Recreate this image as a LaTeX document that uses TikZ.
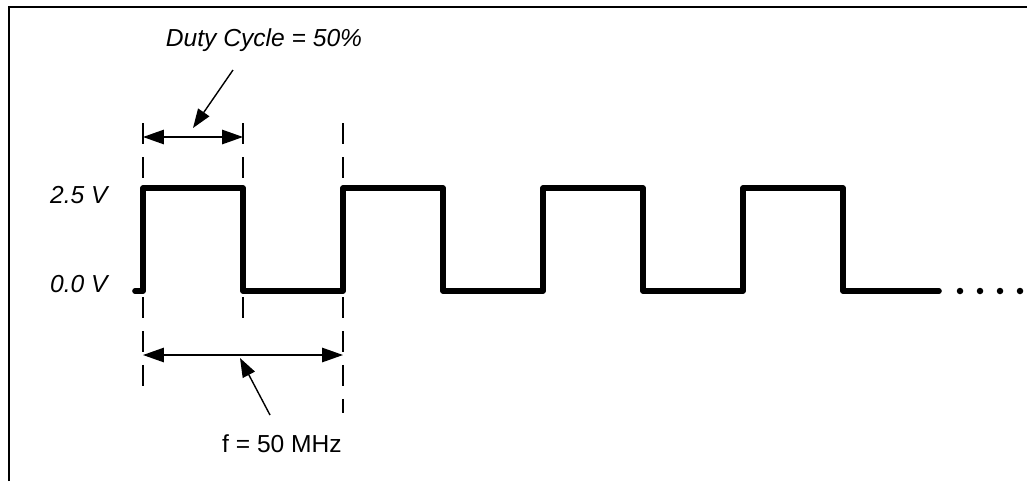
\documentclass[tikz,border=0pt]{standalone}
\usepackage{fontspec}
\setmainfont{Liberation Sans}
\usetikzlibrary{arrows.meta}
\begin{document}
\begin{tikzpicture}[x=0.02cm, y=-0.02cm, font=\fontsize{14}{16}\selectfont]
    \tikzset{
      wave/.style={line width=3.2pt, line cap=round, line join=round},
      guide/.style={line width=1pt, dash pattern=on 0.42cm off 0.26cm},
      dim/.style={line width=0.8pt,
                  {Triangle[length=0.42cm,width=0.29cm]}-{Triangle[length=0.42cm,width=0.29cm]}},
      ptr/.style={line width=0.8pt, -{Triangle[length=0.38cm,width=0.27cm]}},
      lbl/.style={inner sep=0pt},
    }
    \useasboundingbox (0,0) rectangle (1027,481);
    \draw[line width=0.8pt] (9,481) -- (9,7) -- (1027,7);

    % signal
    \draw[wave] (135,291) \foreach \x in {143,343,543,743} {
        -- (\x,291) -- (\x,188) -- (\x+100,188) -- (\x+100,291) } -- (939,291);
    \foreach \x in {960,980,1000,1020}
      \fill (\x,291) circle[radius=0.065cm];

    % guides
    \foreach \x in {143,243,343}
      \draw[guide] (\x,123) -- (\x,180);
    \draw[guide] (143,297) -- (143,387);
    \draw[guide] (243,297) -- (243,318);
    \draw[guide] (343,297) -- (343,413);

    \node[lbl, anchor=base east, font=\fontsize{14}{16}\selectfont\itshape] (hi) at (108,203) {2.5 V};
    \node[lbl, anchor=base east, font=\fontsize{14}{16}\selectfont\itshape] (lo) at (108,292) {0.0 V};

    \coordinate (da) at (143,137);
    \coordinate (db) at (243,137);
    \coordinate (pa) at (143,355);
    \coordinate (pb) at (343,355);
    \draw[dim] (da) -- (db);
    \draw[dim] (pa) -- (pb);

    \node[lbl, font=\fontsize{14}{16}\selectfont\itshape] (duty) at (264,40) {Duty Cycle = 50\%};
    \node[lbl, anchor=base] (freq) at (282,452) {f = 50 MHz};
    \coordinate (dutytail) at (233,70);
    \coordinate (dutytip) at (193,128);
    \coordinate (freqtail) at (270,415);
    \coordinate (freqtip) at (240,358);
    \draw[ptr] (dutytail) -- (dutytip);
    \draw[ptr] (freqtail) -- (freqtip);
  \end{tikzpicture}
\end{document}
